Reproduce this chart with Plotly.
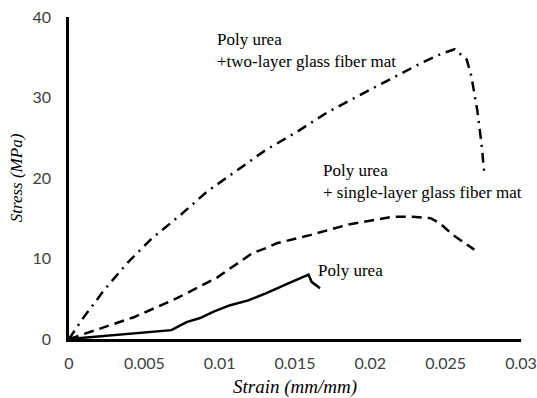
import plotly.graph_objects as go

# Poly urea + two-layer glass fiber mat (dash-dot)
two_x = [0, 0.00086, 0.0023, 0.00385, 0.0055, 0.0074, 0.00916, 0.0111, 0.013, 0.0151, 0.0171, 0.0192, 0.0213, 0.0234, 0.0248, 0.0256, 0.0264, 0.0267, 0.0271, 0.0274, 0.02755]
two_y = [0, 2.4, 6.0, 9.4, 12.5, 15.4, 18.3, 20.9, 23.4, 25.7, 28.1, 30.2, 32.2, 34.3, 35.5, 36.0, 34.7, 32.7, 28.4, 23.9, 20.8]

# Poly urea + single-layer glass fiber mat (dashed)
one_x = [0, 0.0014, 0.0043, 0.0072, 0.0098, 0.0122, 0.0131, 0.0138, 0.016, 0.0185, 0.02, 0.0215, 0.0228, 0.024, 0.0246, 0.0255, 0.0269]
one_y = [0, 0.9, 2.7, 5.1, 7.6, 10.7, 11.3, 11.9, 12.9, 14.2, 14.7, 15.2, 15.2, 15.0, 14.4, 12.9, 11.1]

# Poly urea (solid)
pu_x = [0, 0.001, 0.003, 0.005, 0.0068, 0.0078, 0.0087, 0.0096, 0.0107, 0.0119, 0.0131, 0.01467, 0.01566, 0.0159, 0.0161, 0.01666]
pu_y = [0, 0.15, 0.45, 0.75, 1.1, 2.1, 2.6, 3.4, 4.2, 4.8, 5.7, 7.0, 7.8, 8.0, 7.1, 6.3]

x_ticks = [0, 0.005, 0.01, 0.015, 0.02, 0.025, 0.03]
x_tick_labels = ["0", "0.005", "0.01", "0.015", "0.02", "0.025", "0.03"]
y_ticks = [0, 10, 20, 30, 40]

fig = go.Figure()
fig.add_trace(go.Scatter(x=two_x, y=two_y, mode="lines",
                         line=dict(color="black", width=2.5, dash="10px,6px,2px,6px")))
fig.add_trace(go.Scatter(x=one_x, y=one_y, mode="lines",
                         line=dict(color="black", width=2.5, dash="10px,6px")))
fig.add_trace(go.Scatter(x=pu_x, y=pu_y, mode="lines",
                         line=dict(color="black", width=2.5)))

serif = "Liberation Serif, Times New Roman, serif"
fig.add_annotation(x=0.0097, y=38.6, xref="x", yref="y", text="Poly urea<br>+two-layer glass fiber mat",
                   showarrow=False, xanchor="left", yanchor="top", align="left",
                   font=dict(family=serif, size=17, color="black"))
fig.add_annotation(x=0.0167, y=22.3, xref="x", yref="y", text="Poly urea<br>+ single-layer glass fiber mat",
                   showarrow=False, xanchor="left", yanchor="top", align="left",
                   font=dict(family=serif, size=17, color="black"))
fig.add_annotation(x=0.0164, y=10.0, xref="x", yref="y", text="Poly urea",
                   showarrow=False, xanchor="left", yanchor="top", align="left",
                   font=dict(family=serif, size=17, color="black"))

tickfont = dict(family="Lato, sans-serif", size=16, color="#404040")
fig.update_layout(
    width=537, height=398,
    margin=dict(l=69, r=16, t=17, b=59, autoexpand=False),
    paper_bgcolor="white", plot_bgcolor="white",
    showlegend=False,
    xaxis=dict(range=[0, 0.03], tickvals=x_ticks, ticktext=x_tick_labels, automargin=False,
               showgrid=False, zeroline=False, showline=True, linecolor="black", linewidth=2.5,
               ticks="", tickfont=tickfont, ticklabelstandoff=8,
               title=dict(text="<i>Strain (mm/mm)</i>", font=dict(family=serif, size=19, color="black"), standoff=10)),
    yaxis=dict(range=[0, 40], tickvals=y_ticks, automargin=False,
               showgrid=False, zeroline=False, showline=True, linecolor="black", linewidth=2.5,
               ticks="", tickfont=tickfont, ticklabelstandoff=12,
               title=dict(text="<i>Stress (MPa)</i>", font=dict(family=serif, size=17, color="black"), standoff=6)),
)

fig.write_html("out.html")
